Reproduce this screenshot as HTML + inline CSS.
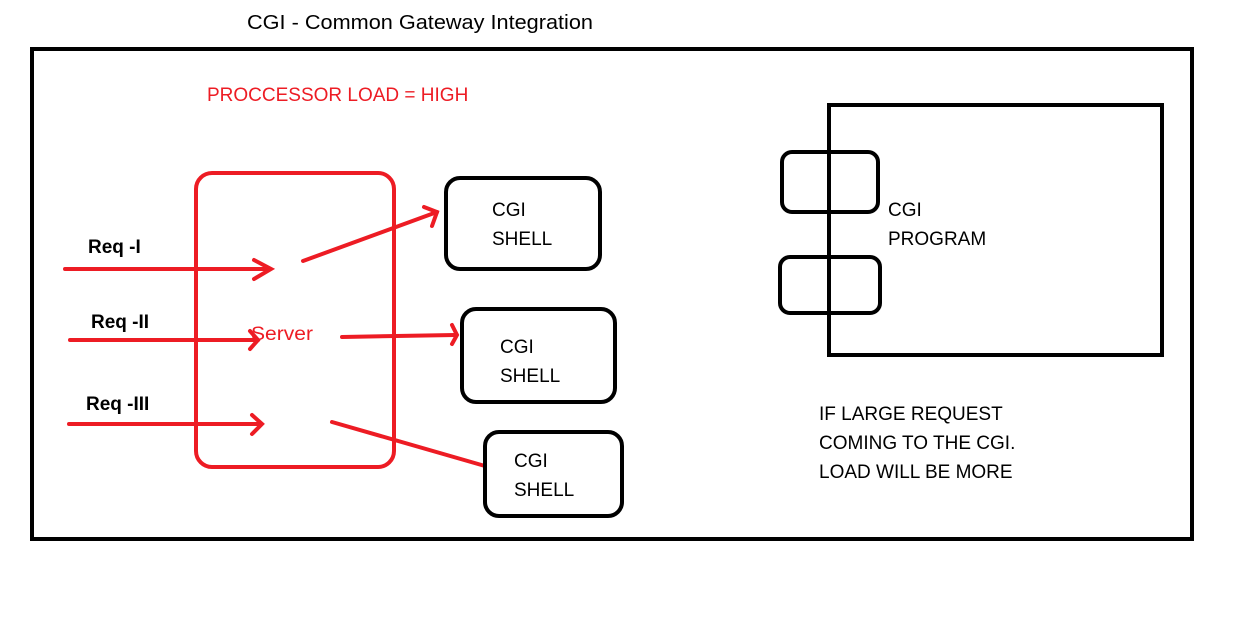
<!DOCTYPE html>
<html><head><style>
body{margin:0;width:1237px;height:618px;background:#fff;overflow:hidden}
svg{display:block}
text{font-family:"Liberation Sans",sans-serif}
</style></head><body>
<svg width="1237" height="618" xmlns="http://www.w3.org/2000/svg">
<text x="247" y="29" font-size="20" fill="#000" textLength="346" lengthAdjust="spacingAndGlyphs">CGI - Common Gateway Integration</text>
<rect x="32" y="49" width="1160" height="490" fill="none" stroke="#000" stroke-width="4"/>
<text x="207" y="101" font-size="19" fill="#ed1c24">PROCCESSOR LOAD = HIGH</text>
<rect x="196" y="173" width="198" height="294" rx="16" fill="none" stroke="#ed1c24" stroke-width="4"/>
<text x="251" y="340" font-size="19" fill="#ed1c24" textLength="62" lengthAdjust="spacingAndGlyphs">Server</text>
<g stroke="#ed1c24" stroke-width="4" fill="none" stroke-linecap="round">
<line x1="65" y1="269" x2="270" y2="269"/><polyline points="254,260 271,269 254,279"/>
<line x1="70" y1="340" x2="258" y2="340"/><polyline points="250,331 258,340 250,349"/>
<line x1="69" y1="424" x2="261" y2="424"/><polyline points="252,415 262,424 252,434"/>
<line x1="303" y1="261" x2="437" y2="212"/><polyline points="424,207 437,212 432,226"/>
<line x1="342" y1="337" x2="455" y2="335"/><polyline points="452,325 457,335 452,344"/>
<line x1="332" y1="422" x2="485" y2="466"/>
</g>
<g font-size="19" font-weight="bold" fill="#000">
<text x="88" y="253">Req  -I</text>
<text x="91" y="328">Req  -II</text>
<text x="86" y="410">Req  -III</text>
</g>
<g fill="none" stroke="#000" stroke-width="4">
<rect x="446" y="178" width="154" height="91" rx="14"/>
<rect x="462" y="309" width="153" height="93" rx="14"/>
<rect x="485" y="432" width="137" height="84" rx="14"/>
<rect x="829" y="105" width="333" height="250"/>
<rect x="782" y="152" width="96" height="60" rx="10"/>
<rect x="780" y="257" width="100" height="56" rx="10"/>
</g>
<g font-size="19" fill="#000">
<text x="492" y="216">CGI</text><text x="492" y="245">SHELL</text>
<text x="500" y="353">CGI</text><text x="500" y="382">SHELL</text>
<text x="514" y="467">CGI</text><text x="514" y="496">SHELL</text>
<text x="888" y="216">CGI</text><text x="888" y="245">PROGRAM</text>
<text x="819" y="420">IF LARGE REQUEST</text>
<text x="819" y="449">COMING TO THE CGI.</text>
<text x="819" y="478">LOAD WILL BE MORE</text>
</g>
</svg>
</body></html>
